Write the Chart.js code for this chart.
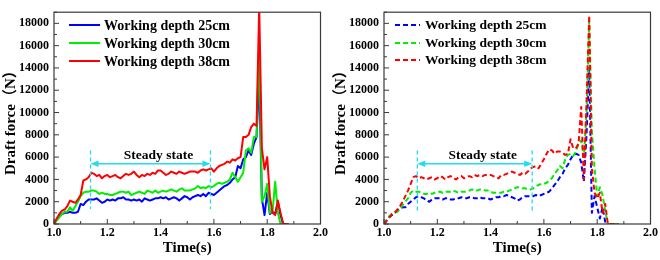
<!DOCTYPE html>
<html><head><meta charset="utf-8">
<script src="https://cdn.jsdelivr.net/npm/chart.js@4.4.1/dist/chart.umd.min.js"></script>
<style>
html,body{margin:0;padding:0;background:#fff;}
#wrap{display:flex;width:660px;height:260px;}
.box{width:330px;height:260px;position:relative;}
canvas{display:block;}
</style></head><body>
<div id="wrap"><div class="box"><canvas id="c1" width="330" height="260"></canvas></div><div class="box"><canvas id="c2" width="330" height="260"></canvas></div></div>
<script>
// ---------------- DATA ----------------
const timeS = [1.00,1.01,1.02,1.03,1.04,1.05,1.06,1.07,1.08,1.09,
  1.10,1.11,1.12,1.13,1.14,1.15,1.16,1.17,1.18,1.19,
  1.20,1.21,1.22,1.23,1.24,1.25,1.26,1.27,1.28,1.29,
  1.30,1.31,1.32,1.33,1.34,1.35,1.36,1.37,1.38,1.39,
  1.40,1.41,1.42,1.43,1.44,1.45,1.46,1.47,1.48,1.49,
  1.50,1.51,1.52,1.53,1.54,1.55,1.56,1.57,1.58,1.59,
  1.60,1.61,1.62,1.63,1.64,1.65,1.66,1.67,1.68,1.69,
  1.70,1.71,1.72,1.73,1.74,1.75,1.76,1.77,1.78,1.79,
  1.80,1.81,1.82,1.83,1.84,1.85,1.86,1.87,1.88];

const seriesNames = ['Working depth 25cm','Working depth 30cm','Working depth 38cm'];

// left panel (solid)
const left25 = [0,400,700,900,1000,1000,1100,1000,1000,1100,
  1800,1700,2000,2200,2200,2200,2300,2100,1900,2000,
  2200,2100,2200,2100,2300,2300,2400,2200,2200,2100,
  2200,2100,2200,2000,2300,2200,2100,2200,2300,2300,
  2400,2300,2400,2200,2300,2400,2300,2100,2300,2500,
  2400,2200,2400,2500,2600,2500,2700,2500,2800,2700,
  2600,2800,3000,3200,3400,3500,3700,4000,4200,5200,
  5000,5800,6000,6600,6200,7200,7800,13000,2300,800,
  2800,900,1100,900,2000,800,0,0,0];
const left30 = [0,300,600,900,1100,1100,1500,1200,1600,2000,
  2500,2800,2900,2900,3000,3000,2900,2700,2800,2700,
  2700,2600,2600,2700,2800,2900,2900,2800,2900,2600,
  2700,2800,2900,2800,2700,3000,2900,2800,3000,2800,
  2900,3000,2900,3000,3100,3000,2900,3100,3200,3000,
  3000,3000,3100,3200,3400,3200,3300,3200,3400,3300,
  3400,3600,3700,3600,3700,3800,4000,4600,4200,3800,
  4200,4600,6600,6800,6400,7800,7800,16500,2000,2500,
  3600,1000,1100,3800,1000,0,0,0,0];
const left38 = [0,500,900,1200,1300,1600,2100,2000,1900,2200,
  2600,3900,4000,4200,4600,4500,4300,4400,4100,4300,
  4400,4200,4300,4400,4200,4100,4300,4500,4400,4500,
  4700,4400,4200,4400,4300,4500,4400,4600,4500,4800,
  4800,4600,4400,4500,4700,4600,4500,4700,4600,4500,
  4600,4700,4700,4700,4600,4800,4900,4800,4900,5000,
  4700,5000,5200,5300,5400,5600,5500,5800,5700,5900,
  6000,7800,7800,8000,8700,9000,8800,19500,6800,4900,
  6000,2500,1000,800,2100,1000,0,0,0];

// right panel (dashed)
const right25 = [0,300,600,800,1000,1200,1400,1500,1500,1800,
  2000,2200,2400,2500,2400,2300,2100,2000,2200,2300,
  2300,2300,2200,2300,2300,2200,2200,2300,2300,2400,
  2300,2300,2400,2400,2300,2300,2400,2300,2300,2300,
  2200,2300,2400,2400,2500,2500,2600,2500,2400,2300,
  2100,2200,2400,2500,2500,2500,2500,2600,2500,2600,
  2700,2800,2900,3200,3500,3800,4200,4500,5000,5300,
  5800,6200,6300,6200,5500,3800,8000,14000,1000,2500,
  1500,500,1500,200,0,0,0,0,0];
const right30 = [0,400,700,900,1000,1100,1300,1700,2000,2300,
  2800,3000,2900,2900,2800,2700,2700,2800,2700,2800,
  2900,2900,2800,2900,2900,2900,3000,2900,2800,2900,
  2900,2900,3000,3100,3000,3000,3100,3100,3000,3000,
  2900,2800,2800,2800,2800,2900,2900,3000,3100,3200,
  3300,3300,3200,3200,3100,3100,3200,3400,3500,3600,
  3600,3700,3900,4100,4500,4800,5200,5000,5800,6200,
  6300,6100,6500,7200,7500,6000,10000,18200,8300,5000,
  2500,3300,2600,1200,0,0,0,0,0];
const right38 = [0,300,600,900,1000,1300,1600,2000,2500,3000,
  3600,4200,4300,4100,4200,4100,4000,4100,4200,4000,
  4100,4300,4200,4000,4200,4300,4100,4000,4200,4300,
  4100,4200,4300,4200,4400,4300,4400,4300,4400,4400,
  4400,4300,4200,4100,4400,4400,4500,4600,4700,4600,
  4500,4400,4600,4500,4700,5000,5100,5200,5000,5400,
  5800,6300,6700,6600,6300,6500,6500,6400,6200,6300,
  7600,6800,6800,7200,10500,4000,11000,18700,5000,2800,
  2300,2800,1000,1800,0,0,0,0,0];

const xTickLabels = ['1.0','1.2','1.4','1.6','1.8','2.0'];
const yTickLabels = ['0','2000','4000','6000','8000','10000','12000','14000','16000','18000'];

// steady-state markers (time, s)
const steadyLeft = [1.137, 1.587];
const steadyRight = [1.125, 1.556];

// ---------------- DRAWING ----------------
const SERIF = "'Liberation Serif','Times New Roman','Noto Sans CJK SC',serif";
const colors = ['#0000ff','#00ee00','#ff0000'];
const cyan = '#22dcf0';

function pts(vals){ return timeS.map((t,i)=>({x:t, y:vals[i]})); }

const decor = {
  id:'decor',
  afterDatasetsDraw(chart){
    const {ctx, chartArea:a, scales:{x,y}} = chart;
    const o = chart.options.plugins.decor;
    ctx.save();
    // frame
    ctx.strokeStyle='#3a3a3a'; ctx.lineWidth=1.2; ctx.setLineDash([]);
    ctx.strokeRect(a.left, a.top, a.right-a.left, a.bottom-a.top);
    // inward ticks
    ctx.lineWidth=1;
    x.ticks.forEach(t=>{
      const px = x.getPixelForValue(t.value);
      const major = Math.round(t.value*10)%2===0;
      const len = major?5:3;
      ctx.beginPath(); ctx.moveTo(px, a.bottom); ctx.lineTo(px, a.bottom-len); ctx.stroke();
    });
    y.ticks.forEach(t=>{
      const py = y.getPixelForValue(t.value);
      const major = Math.round(t.value)%2000===0;
      const len = major?5:3;
      ctx.beginPath(); ctx.moveTo(a.left, py); ctx.lineTo(a.left+len, py); ctx.stroke();
    });
    // steady state annotation
    const s = o.steady;
    ctx.strokeStyle=cyan; ctx.fillStyle=cyan; ctx.lineWidth=1.3;
    ctx.setLineDash([4,3]);
    s.x.forEach(t=>{
      const px = x.getPixelForValue(t);
      ctx.beginPath(); ctx.moveTo(px, y.getPixelForValue(s.yTop)); ctx.lineTo(px, y.getPixelForValue(s.yBottom)); ctx.stroke();
    });
    ctx.setLineDash([]);
    const x1 = x.getPixelForValue(s.x[0]), x2 = x.getPixelForValue(s.x[1]);
    const ya = y.getPixelForValue(s.yArrow);
    ctx.lineWidth=1.5;
    ctx.beginPath(); ctx.moveTo(x1+6, ya); ctx.lineTo(x2-6, ya); ctx.stroke();
    ctx.beginPath(); ctx.moveTo(x1, ya); ctx.lineTo(x1+8, ya-3.2); ctx.lineTo(x1+8, ya+3.2); ctx.closePath(); ctx.fill();
    ctx.beginPath(); ctx.moveTo(x2, ya); ctx.lineTo(x2-8, ya-3.2); ctx.lineTo(x2-8, ya+3.2); ctx.closePath(); ctx.fill();
    ctx.fillStyle='#000'; ctx.font='bold '+s.font+'px '+SERIF;
    ctx.textAlign='center'; ctx.textBaseline='middle';
    ctx.fillText('Steady state', x.getPixelForValue(s.xText), y.getPixelForValue(s.yText));
    // legend
    const L = o.legend;
    seriesNames.forEach((name,i)=>{
      const ry = L.rows[i];
      ctx.strokeStyle=colors[i]; ctx.lineWidth=o.lw;
      ctx.setLineDash(o.dash);
      ctx.beginPath(); ctx.moveTo(L.x0, ry); ctx.lineTo(L.x1, ry); ctx.stroke();
      ctx.setLineDash([]);
      ctx.fillStyle='#000'; ctx.font='bold '+L.font+'px '+SERIF;
      ctx.textAlign='left'; ctx.textBaseline='middle';
      ctx.fillText(name, L.xt, ry+1);
    });
    // axis titles
    ctx.fillStyle='#000'; ctx.font='bold 15px '+SERIF;
    ctx.textAlign='center'; ctx.textBaseline='middle';
    ctx.fillText('Time(s)', (a.left+a.right)/2, 248);
    ctx.save();
    ctx.translate(11, 175); ctx.rotate(-Math.PI/2);
    ctx.textAlign='left';
    ctx.fillText('Draft force（N）', 0, 0);
    ctx.restore();
    ctx.restore();
  }
};

function makeChart(id, v25, v30, v38, dashed, steadyX, legend, steadyFont){
  const dash = dashed ? [5,3] : [];
  const lw = 2;
  const vals = [v25, v30, v38];
  new Chart(document.getElementById(id), {
    type:'line',
    data:{ datasets: vals.map((v,i)=>({
      label: seriesNames[i], data: pts(v), borderColor: colors[i], backgroundColor: colors[i],
      borderWidth: lw, borderDash: dash, pointRadius: 0, tension: 0, fill:false, order: 3-i,
      borderJoinStyle: 'round'
    }))},
    options:{
      responsive:false, animation:false, devicePixelRatio:1,
      layout:{padding:{top:2, right:9.3, left:0, bottom:0}},
      plugins:{
        legend:{display:false}, tooltip:{enabled:false},
        decor:{
          dash, lw,
          steady:{x:steadyX, yTop:6600, yBottom:dashed?1000:1350, yArrow:5400, yText:6150,
                  xText:(steadyX[0]+steadyX[1])/2 + 0.03, font:steadyFont},
          legend
        }
      },
      scales:{
        x:{ type:'linear', min:1, max:2,
            grid:{display:false, drawTicks:false}, border:{display:false},
            ticks:{ stepSize:0.1, autoSkip:false, maxRotation:0, padding:2, color:'#000',
              font:{family:SERIF, size:12, weight:'bold'},
              callback:(v)=>{ const k=Math.round(v*10); return k%2===0 ? xTickLabels[(k-10)/2] : ''; } },
            afterFit:(s)=>{ s.height = 36; } },
        y:{ type:'linear', min:0, max:19000,
            grid:{display:false, drawTicks:false}, border:{display:false},
            ticks:{ stepSize:1000, autoSkip:false, padding:5, color:'#000',
              font:{family:SERIF, size:12, weight:'bold'},
              callback:(v)=>{ const k=Math.round(v); return k%2000===0 ? yTickLabels[k/2000] : ''; } },
            afterFit:(s)=>{ s.width = 54; } }
      }
    },
    plugins:[decor]
  });
}

makeChart('c1', left25, left30, left38, false, steadyLeft,
  {x0:69, x1:100, xt:104, rows:[25,43,61], font:14}, 13.5);
makeChart('c2', right25, right30, right38, true, steadyRight,
  {x0:65, x1:90, xt:95, rows:[25,43,60], font:13.5}, 13.3);
</script>
</body></html>
